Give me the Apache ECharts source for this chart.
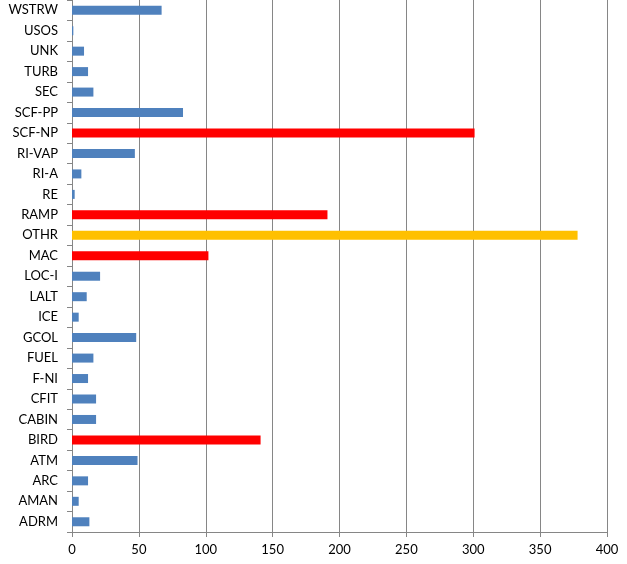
<!DOCTYPE html>
<html>
<head>
<meta charset="utf-8">
<script src="https://cdn.jsdelivr.net/npm/echarts@6/dist/echarts.min.js"></script>
<style>html,body{margin:0;padding:0;background:#fff}#c{width:627px;height:564px}</style>
</head>
<body>
<div id="c"></div>
<script>
const categories = ["ADRM","AMAN","ARC","ATM","BIRD","CABIN","CFIT","F-NI","FUEL","GCOL","ICE","LALT","LOC-I","MAC","OTHR","RAMP","RE","RI-A","RI-VAP","SCF-NP","SCF-PP","SEC","TURB","UNK","USOS","WSTRW"];
const values = [13,5,12,49,141,18,18,12,16,48,5,11,21,102,378,191,2,7,47,301,83,16,12,9,1,67];
const highlightRed = ["BIRD","MAC","RAMP","SCF-NP"];
const highlightYellow = ["OTHR"];
const xTicks = [0,50,100,150,200,250,300,350,400];

const BLUE = "#4F81BD", RED = "#FF0000", YELLOW = "#FFC000";
const data = categories.map((c, i) => ({
  value: values[i],
  itemStyle: { color: highlightYellow.includes(c) ? YELLOW : (highlightRed.includes(c) ? RED : BLUE) }
}));

const chart = echarts.init(document.getElementById('c'), null, {renderer: 'canvas'});
chart.setOption({
  animation: false,
  backgroundColor: '#fff',
  grid: { left: 72, right: 20, top: 0, bottom: 32, containLabel: false },
  xAxis: {
    type: 'value',
    min: xTicks[0], max: xTicks[xTicks.length - 1], interval: 50,
    axisLine: { show: true, lineStyle: { color: '#868686', width: 1 } },
    axisTick: { show: true, length: 5, lineStyle: { color: '#868686' } },
    splitLine: { show: true, lineStyle: { color: '#868686', width: 1 } },
    axisLabel: { color: '#000', fontFamily: 'Lato', fontSize: 13, margin: 11 }
  },
  yAxis: {
    type: 'category',
    data: categories,
    axisLine: { show: true, lineStyle: { color: '#868686', width: 1 } },
    axisTick: { show: true, length: 5, lineStyle: { color: '#868686' } },
    splitLine: { show: false },
    axisLabel: { color: '#000', fontFamily: 'Lato', fontSize: 13, margin: 14, interval: 0 }
  },
  series: [{
    type: 'bar',
    data: data,
    barWidth: 9
  }]
});
</script>
</body>
</html>
